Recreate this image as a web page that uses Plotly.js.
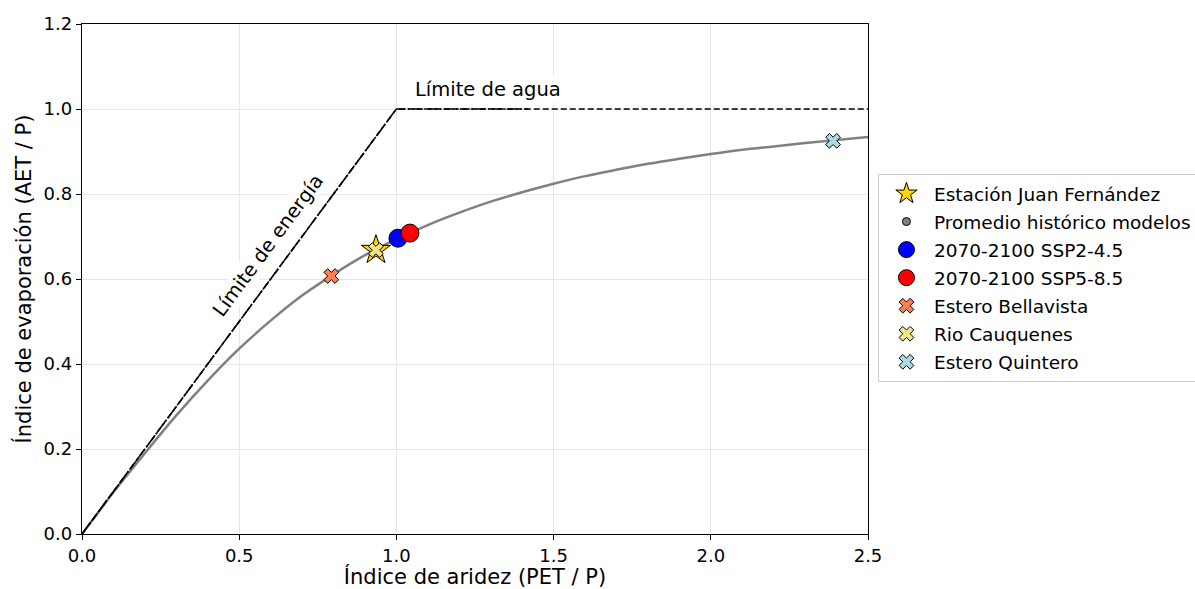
<!DOCTYPE html>
<html><head><meta charset="utf-8">
<script src="https://cdn.plot.ly/plotly-3.0.1.min.js"></script>
<style>body{margin:0;padding:0;background:#fff}#chart{width:1195px;height:589px}</style>
</head><body><div id="chart"></div>
<script>
// Budyko curve
const curveX = [0, 0.05, 0.1, 0.2, 0.3, 0.4, 0.5, 0.6, 0.7, 0.8, 0.9, 1.0, 1.1, 1.2, 1.3, 1.4, 1.5, 1.6, 1.7, 1.8, 1.9, 2.0, 2.1, 2.2, 2.3, 2.4, 2.5];
const curveY = [0, 0.049, 0.098, 0.190, 0.279, 0.361, 0.436, 0.502, 0.561, 0.611, 0.656, 0.694, 0.727, 0.756, 0.782, 0.804, 0.824, 0.842, 0.857, 0.871, 0.883, 0.894, 0.904, 0.912, 0.920, 0.927, 0.934];
// limits
const limitX = [0, 1, 2.5];
const limitY = [0, 1, 1];
const limitX2 = [0, 1, 1.42];
const limitY2 = [0, 1, 1];
// points
const pointNames = ["Promedio histórico modelos", "Estación Juan Fernández", "2070-2100 SSP2-4.5", "2070-2100 SSP5-8.5", "Estero Bellavista", "Rio Cauquenes", "Estero Quintero"];
const pointX = [0.935, 0.935, 1.005, 1.043, 0.793, 0.935, 2.389];
const pointY = [0.668, 0.668, 0.696, 0.708, 0.607, 0.668, 0.925];
const legendRank = [2, 1, 3, 4, 5, 6, 7];
const pointColor = ["#808080", "#FFD700", "#0000FF", "#FF0000", "#FF7F50", "#F0E68C", "#ADD8E6"];
const pointSymbol = ["circle", "star", "circle", "circle", "x", "x", "x"];
const pointSize = [8, 22, 18, 18, 13, 13, 13];

const traces = [
  {x: curveX, y: curveY, mode: "lines", line: {color: "#808080", width: 2.5, shape: "spline"}, showlegend: false, hoverinfo: "skip"},
  {x: limitX, y: limitY, mode: "lines", line: {color: "#000", width: 1.6, dash: "6px,3px"}, showlegend: false, hoverinfo: "skip"},
  {x: limitX2, y: limitY2, mode: "lines", line: {color: "#000", width: 1.6, dash: "10px,2px,2px,2px"}, showlegend: false, hoverinfo: "skip"}
];
for (let i = 0; i < pointNames.length; i++) {
  traces.push({
    x: [pointX[i]], y: [pointY[i]], mode: "markers", name: pointNames[i],
    legendrank: legendRank[i], legendgroup: "g" + i,
    marker: {color: pointColor[i], symbol: pointSymbol[i], size: pointSize[i], line: {color: "#000", width: 1}}
  });
}

const layout = {
  width: 1195, height: 589,
  margin: {l: 82, r: 327, t: 24, b: 55},
  paper_bgcolor: "#fff", plot_bgcolor: "#fff",
  font: {family: "DejaVu Sans, sans-serif", size: 18, color: "#000"},
  xaxis: {
    range: [0, 2.5], tickvals: [0, 0.5, 1, 1.5, 2, 2.5], ticktext: ["0.0", "0.5", "1.0", "1.5", "2.0", "2.5"],
    showgrid: true, gridcolor: "#e6e6e6", gridwidth: 1, zeroline: false,
    showline: true, linecolor: "#000", linewidth: 1.2, mirror: true,
    ticks: "outside", ticklen: 5, tickcolor: "#000",
    title: {text: "Índice de aridez (PET / P)", font: {size: 21}, standoff: 8},
    tickfont: {size: 18}
  },
  yaxis: {
    range: [0, 1.2], tickvals: [0, 0.2, 0.4, 0.6, 0.8, 1.0, 1.2], ticktext: ["0.0", "0.2", "0.4", "0.6", "0.8", "1.0", "1.2"],
    showgrid: true, gridcolor: "#e6e6e6", gridwidth: 1, zeroline: false,
    showline: true, linecolor: "#000", linewidth: 1.2, mirror: true,
    ticks: "outside", ticklen: 5, tickcolor: "#000",
    title: {text: "Índice de evaporación (AET / P)", font: {size: 21}, standoff: 6},
    tickfont: {size: 18}
  },
  legend: {
    xref: "container", yref: "container",
    x: 0.7347, xanchor: "left", y: 0.7046, yanchor: "top",
    bgcolor: "#fff", bordercolor: "#cccccc", borderwidth: 1,
    font: {size: 18.5}, tracegroupgap: 1, itemsizing: "trace", itemwidth: 45
  },
  annotations: [
    {x: 1.29, y: 1.045, xref: "x", yref: "y", text: "Límite de agua", showarrow: false, font: {size: 19.5}, bgcolor: "#fff"},
    {x: 0.592, y: 0.678, xref: "x", yref: "y", text: "Límite de energía", showarrow: false, textangle: -53.5, font: {size: 19.5}, bgcolor: "#fff"}
  ]
};
Plotly.newPlot("chart", traces, layout, {displayModeBar: false, staticPlot: true});
</script></body></html>
